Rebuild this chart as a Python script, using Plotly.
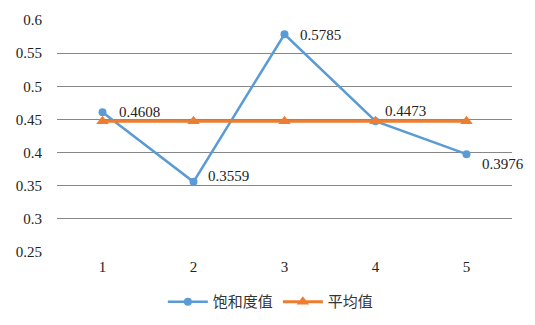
import plotly.graph_objects as go

categories = ["1", "2", "3", "4", "5"]
saturation = [0.4608, 0.3559, 0.5785, 0.4473, 0.3976]
average = [0.4473, 0.4473, 0.4473, 0.4473, 0.4473]
label_dx = [14, 12, 13, 7, 13]
label_dy = [0, 6, -1, 10, -10]

SERIF = "Liberation Serif"

fig = go.Figure()
fig.add_trace(go.Scatter(
    x=categories, y=saturation, name="饱和度值", mode="lines+markers",
    line=dict(color="#5B9BD5", width=2.5),
    marker=dict(symbol="circle", size=8, color="#5B9BD5"),
))
fig.add_trace(go.Scatter(
    x=categories, y=average, name="平均值", mode="lines+markers",
    line=dict(color="#ED7D31", width=3),
    marker=dict(symbol="triangle-up", size=11, color="#ED7D31"),
))

for i, (v, dx, dy) in enumerate(zip(saturation, label_dx, label_dy)):
    fig.add_annotation(x=i, y=v, xref="x", yref="y", text=f"{v:.4f}", showarrow=False,
                       xanchor="left", yanchor="middle", xshift=dx, yshift=dy,
                       font=dict(family=SERIF, size=15, color="#222"))

fig.update_layout(
    width=535, height=325,
    margin=dict(l=57, r=23, t=20, b=73, autoexpand=False),
    paper_bgcolor="white", plot_bgcolor="white",
    font=dict(family=SERIF, size=15, color="#222"),
    showlegend=True,
    legend=dict(orientation="h", x=0.47, xanchor="center", y=-0.215, yanchor="middle",
                font=dict(family="Noto Sans CJK SC", size=15, color="#333"),
                itemwidth=40, tracegroupgap=0),
    xaxis=dict(type="category", range=[-0.5, 4.5], showgrid=False, zeroline=False,
               showline=False, ticks="", tickfont=dict(family=SERIF, size=15, color="#222"),
               ticklabelstandoff=4),
    yaxis=dict(range=[0.25, 0.6], dtick=0.05, tick0=0.25, showgrid=True,
               gridcolor="#878787", gridwidth=1, zeroline=False, showline=False,
               ticks="", tickfont=dict(family=SERIF, size=15, color="#222"),
               ticklabelstandoff=14),
)
fig.write_html("out.html")
